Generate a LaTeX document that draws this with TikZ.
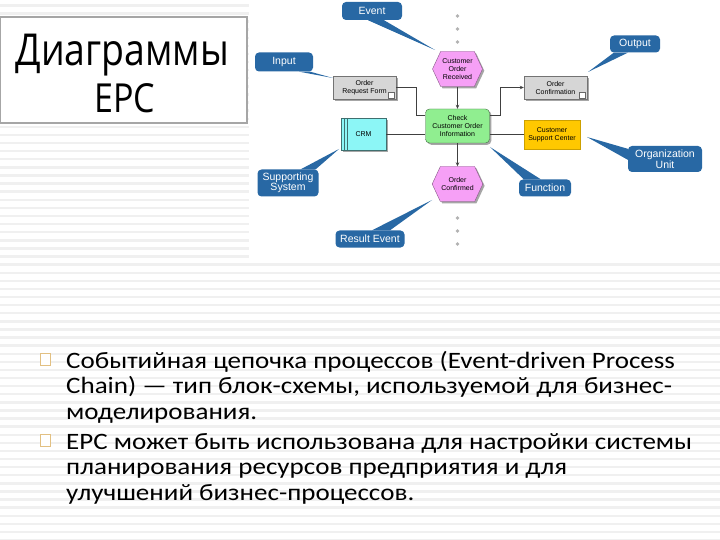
\documentclass[tikz,border=0pt]{standalone}
\usepackage{fontspec}
\setmainfont{Carlito}[FakeStretch=1.15]
\newfontfamily\titlefont{Open Sans}[FakeStretch=0.85]
\newfontfamily\diafont{Liberation Sans}
\usetikzlibrary{positioning,calc,shapes.symbols,shadows,arrows.meta}

\definecolor{callblue}{RGB}{40,104,164}
\definecolor{evpink}{RGB}{246,160,246}
\definecolor{fngreen}{RGB}{144,238,144}
\definecolor{crmcyan}{RGB}{140,246,246}
\definecolor{formgray}{RGB}{214,214,214}
\definecolor{orgyellow}{RGB}{255,200,0}
\definecolor{stripe}{RGB}{240,240,240}
\definecolor{bulletcol}{RGB}{226,192,130}

\tikzset{
  boxshadow/.style={drop shadow={shadow xshift=1.8pt,shadow yshift=-1.8pt,fill=black!35,opacity=1}},
  callout/.style={fill=callblue, rounded corners=4pt, text=white, align=center,
    inner sep=0pt, font=\diafont\fontsize{10.5}{10.5}\selectfont},
  calltail/.style={fill=callblue},
  event/.style={signal, signal to=east and west, signal pointer angle=130,
    fill=evpink, draw=evpink!55!black, line width=0.4pt, boxshadow,
    minimum width=50pt, minimum height=35pt, inner sep=1pt, align=center,
    font=\diafont\fontsize{7}{8}\selectfont},
  func/.style={rectangle, rounded corners=4pt, fill=fngreen, draw=fngreen!45!black,
    line width=0.4pt, boxshadow, minimum width=64pt, minimum height=34pt,
    inner sep=1pt, align=center, font=\diafont\fontsize{7}{8}\selectfont},
  data/.style={rectangle, fill=formgray, draw=black!55, line width=0.4pt, boxshadow,
    minimum width=63pt, minimum height=23pt, inner sep=1pt, align=center,
    font=\diafont\fontsize{7}{8}\selectfont},
  system/.style={rectangle, fill=crmcyan, draw=crmcyan!45!black, line width=0.4pt,
    boxshadow, minimum width=45pt, minimum height=32pt, inner sep=1pt,
    font=\diafont\fontsize{7}{8}\selectfont},
  orgunit/.style={rectangle, fill=orgyellow, draw=orgyellow!80!black, line width=0.4pt,
    minimum width=56pt, minimum height=29pt, inner sep=1pt, align=center,
    font=\diafont\fontsize{7}{8}\selectfont},
  link/.style={draw=black!75, line width=0.9pt},
  flow/.style={link, -{Stealth[length=4pt,width=3.5pt]}},
  titletext/.style={anchor=base, inner sep=0pt, font=\titlefont},
  line/.style={anchor=base west, inner sep=0pt, font=\fontsize{23.5}{26}\selectfont},
  bulletbox/.style={draw=bulletcol, line width=0.6pt, fill=white,
    minimum width=10pt, minimum height=12pt, inner sep=0pt},
}

\begin{document}
\begin{tikzpicture}[x=1pt,y=-1pt]
\useasboundingbox (0,0) rectangle (720,540);

% lined background
\fill[white] (0,0) rectangle (720,540);
\foreach \k in {0,...,66}
  \fill[stripe] (0,{5.4+8.1*\k-1.2}) rectangle (720,{5.4+8.1*\k+1.2});
\fill[white] (249,0) rectangle (720,263);

% title
\node[draw=black!35, line width=1.4pt, fill=white, minimum width=247pt, minimum height=106pt,
  inner sep=0pt] (title) at (123.5,70) {};
\node[titletext, font=\titlefont\fontsize{44}{44}\selectfont] (t1) at (122.5,66) {Диаграммы};
\node[titletext, font=\titlefont\fontsize{40}{40}\selectfont] (t2) at (125,113) {EPC};

% EPC chain
\node[event] (recv) at (457.5,69) {Customer\\Order\\Received};
\node[func] (check) at (457.5,126) {Check\\Customer Order\\Information};
\node[event] (conf) at (457.5,184) {Order\\Confirmed};
\node[data] (form) at (364.5,87.5) {Order\\Request Form};
\node[data] (confirm) at (555.5,87.5) {Order\\Confirmation};
\node[system] (crm) at (363.5,134) {CRM};
\node[orgunit] (csc) at (552,134.5) {Customer\\Support Center};

% stripes of the system box, document icons
\draw[crmcyan!45!black, line width=0.4pt] ($(crm.north west)+(3,0)$) -- ($(crm.south west)+(3,0)$);
\draw[crmcyan!45!black, line width=0.4pt] ($(crm.north west)+(6,0)$) -- ($(crm.south west)+(6,0)$);
\foreach \d in {form,confirm}
  \draw[black!60, line width=0.4pt, fill=white] ($(\d.south east)+(-8,-1)$) rectangle ++(6,-6);

% more events above and below
\foreach \y in {16,29,42,218,231,244}
  \fill[black!30] (457.5,\y) circle (1.8pt);

% connectors
\draw[flow] (recv.south) -- (check.north);
\draw[flow] (check.south) -- (conf.north);
\draw[link] (form.east) -| ($(check.west)+(-9,-11)$) -- ($(check.west)+(0,-11)$);
\draw[flow] ($(check.east)+(0,-11)$) -| ($(confirm.west)+(-23,0)$) -- (confirm.west);
\draw[link] (crm.east) -- (crm.east -| check.west);
\draw[link] (check.east |- csc) -- (csc.west);

% callouts
\node[callout, minimum width=60pt, minimum height=18pt] (evlab) at (372,11) {Event};
\node[callout, minimum width=58pt, minimum height=19pt] (inlab) at (284,62) {Input};
\node[callout, minimum width=50pt, minimum height=17pt] (outlab) at (635,44) {Output};
\node[callout, minimum width=61pt, minimum height=27pt] (suplab) at (288,183) {Supporting\\System};
\node[callout, minimum width=74pt, minimum height=26pt] (orglab) at (665,159) {Organization\\Unit};
\node[callout, minimum width=52pt, minimum height=17pt] (fnlab) at (545,188) {Function};
\node[callout, minimum width=69pt, minimum height=17pt] (reslab) at (370,239) {Result Event};

\coordinate (evtip) at (435,50);
\coordinate (intip) at (333,78);
\coordinate (outtip) at (588,72);
\coordinate (suptip) at (339,149);
\coordinate (orgtip) at (587,137);
\coordinate (fntip) at (490,147);
\coordinate (restip) at (432,200);

\fill[calltail] ($(evlab.south)+(-4,0)$) -- (evtip) -- ($(evlab.south)+(12,0)$) -- cycle;
\fill[calltail] ($(inlab.south east)+(-14,0)$) -- (intip) -- ($(inlab.south east)+(-3,0)$) -- cycle;
\fill[calltail] ($(outlab.south west)+(4,0)$) -- (outtip) -- ($(outlab.south west)+(18,0)$) -- cycle;
\fill[calltail] ($(suplab.north east)+(-18,0)$) -- (suptip) -- ($(suplab.north east)+(-3,0)$) -- cycle;
\fill[calltail] ($(orglab.north west)+(0,3)$) -- (orgtip) -- ($(orglab.north west)+(0,14)$) -- cycle;
\fill[calltail] ($(fnlab.north west)+(5,0)$) -- (fntip) -- ($(fnlab.north west)+(22,0)$) -- cycle;
\fill[calltail] ($(reslab.north)+(2,0)$) -- (restip) -- ($(reslab.north)+(20,0)$) -- cycle;

% text
\node[bulletbox] (b1) at (45,359) {};
\node[bulletbox] (b2) at (45,440) {};
\node[line] (l1) at (66,368) {Событийная цепочка процессов (Event-driven Process};
\node[line] (l2) at (66,393) {Chain) — тип блок-схемы, используемой для бизнес-};
\node[line] (l3) at (66,419) {моделирования.};
\node[line] (l4) at (66,449) {EPC может быть использована для настройки системы};
\node[line] (l5) at (66,474) {планирования ресурсов предприятия и для};
\node[line] (l6) at (66,500) {улучшений бизнес-процессов.};
\end{tikzpicture}
\end{document}
